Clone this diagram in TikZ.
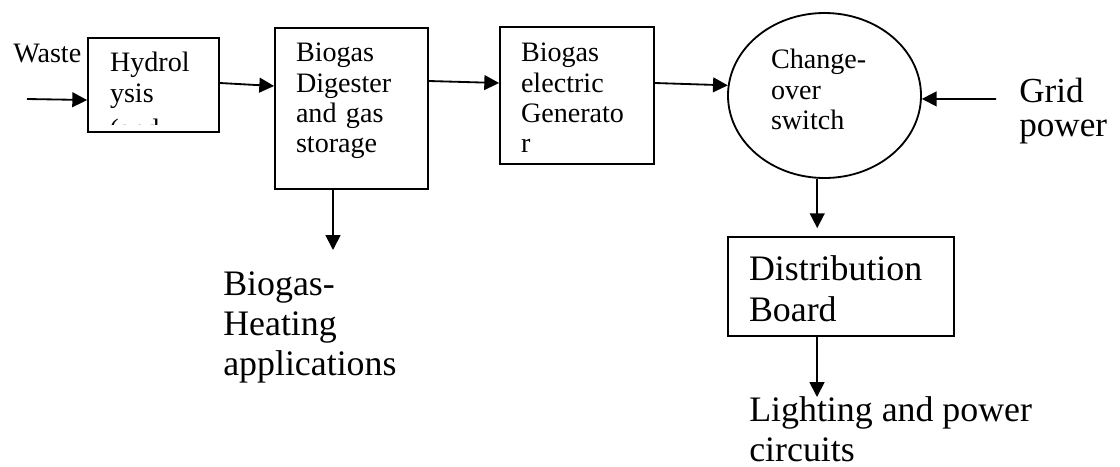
\documentclass[tikz,border=0pt]{standalone}
\usepackage{fontspec}
\setmainfont{Liberation Serif}
\usepackage{tikz}
\usetikzlibrary{positioning,arrows.meta,shapes.geometric}
\newcommand{\stagefont}{\fontsize{20pt}{21.5pt}\selectfont}
\newcommand{\notefont}{\fontsize{25.5pt}{28.5pt}\selectfont}
\newcommand{\gridfont}{\fontsize{25pt}{24.2pt}\selectfont}
\newcommand{\tpad}[1]{\rule{0pt}{#1}}
\newcommand{\bpad}[1]{\rule[-#1]{0pt}{#1}}
\tikzset{
    base/.style={align=left, inner sep=0pt},
    stage/.style={base, rectangle, draw, line width=1.3pt, font=\stagefont},
    switchbox/.style={base, ellipse, draw, line width=1.3pt, font=\stagefont},
    flow/.style={-{Triangle[length=10.5pt,width=10.5pt]}, line width=1.3pt},
    note/.style={base, anchor=north west, font=\notefont}
}

\begin{document}
\begin{tikzpicture}
  \useasboundingbox (0,0) rectangle (28,-11.65);

  \node[stage, minimum width=3.275cm, minimum height=2.35cm, text width=2.175cm] (hydro) at (3.8375,-2.125) {\tpad{0.5cm}Hydrol\\ysis\bpad{0.395cm}};
  \node[stage, minimum width=3.825cm, minimum height=4.025cm, text width=2.775cm] (dig) at (8.7875,-2.7125) {\tpad{0.5cm}Biogas\\Digester\\and gas\\storage\bpad{0.56cm}};
  \node[stage, minimum width=3.85cm, minimum height=3.425cm, text width=2.8cm] (gen) at (14.425,-2.3875) {\tpad{0.64cm}Biogas\\electric\\Generato\\r\bpad{0.05cm}};
  \node[switchbox, minimum width=4.825cm, minimum height=4.125cm, text width=2.675cm] (sw) at (20.6125,-2.3875) {\tpad{0.5cm}Change-\\over\\switch\bpad{0.315cm}};
  \node[stage, font=\notefont, minimum width=5.65cm, minimum height=2.475cm, text width=4.6cm] (dist) at (21.025,-7.1625) {\tpad{0.75cm}Distribution\\Board\bpad{0.025cm}};

  % third line of the hydrolysis box runs past its frame
  \begin{scope}
    \clip ([yshift=0.2cm]hydro.south west) rectangle (hydro.north east);
    \node[base, anchor=base west, font=\stagefont] (hydrocut) at ([xshift=0.55cm,yshift=-0.15cm]hydro.south west) {(and};
  \end{scope}

  \node[note, font=\stagefont] (waste) at (0.325,-1.05) {\tpad{0.5cm}Waste};
  \node[note, font=\gridfont] (grid) at (25.475,-1.925) {\tpad{0.625cm}Grid\\power};
  \node[note] (heat) at (5.575,-6.75) {\tpad{0.625cm}Biogas-\\Heating\\applications};
  \node[note] (loads) at (18.725,-9.9) {\tpad{0.625cm}Lighting and power\\circuits};

  \coordinate (win) at (0.675,-2.475);
  \coordinate (gin) at (24.9,-2.475);
  \coordinate (hout) at (8.325,-6.25);
  \coordinate (lout) at (20.425,-9.925);

  \draw[flow] (win) -- ([yshift=-0.375cm]hydro.west);
  \draw[flow] ([yshift=0.05cm]hydro.east) -- ([yshift=0.5625cm]dig.west);
  \draw[flow] ([yshift=0.6875cm]dig.east) -- ([yshift=0.3125cm]gen.west);
  \draw[flow] ([yshift=0.3125cm]gen.east) -- (sw.174);
  \draw[flow] (gin) -- (sw.-2);
  \draw[flow] ([xshift=-0.4625cm]dig.south) -- (hout);
  \draw[flow, shorten >=0.2cm] (sw.265) -- (sw.265 |- dist.north);
  \draw[flow] ([xshift=-0.6cm]dist.south) -- (lout);
\end{tikzpicture}
\end{document}
